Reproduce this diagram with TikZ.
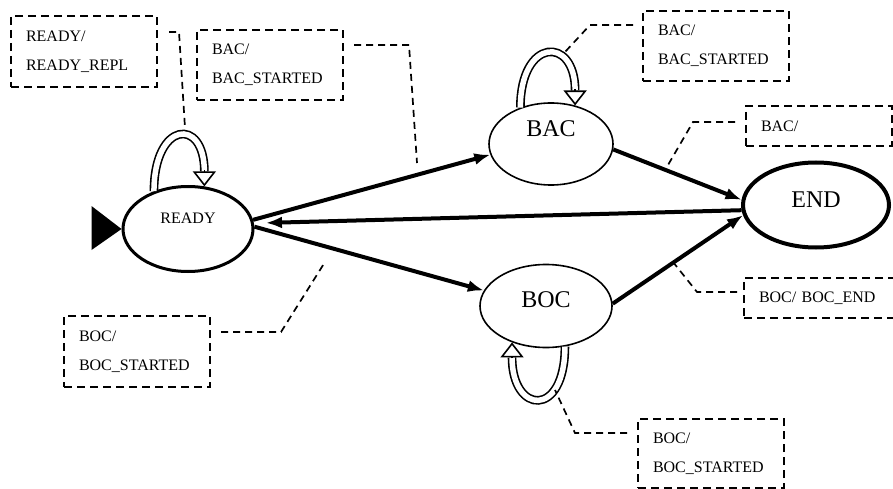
\documentclass[tikz,border=0pt]{standalone}
\usepackage{fontspec}
\setmainfont{Liberation Serif}
\usetikzlibrary{shapes.geometric,arrows.meta,calc}

\begin{document}
\begin{tikzpicture}[x=1pt,y=-1pt,
    state/.style={ellipse, draw, inner sep=0pt, line width=1.6pt, font=\fontsize{24}{28}\selectfont},
    note/.style={draw, dash pattern=on 8pt off 5pt, line width=2pt, anchor=north west, align=left,
        text width=116pt, inner xsep=15pt, inner ysep=0pt, font=\fontsize{16}{29}\selectfont},
    lead/.style={dash pattern=on 7pt off 5pt, line width=1.7pt},
    trans/.style={line width=4pt, -{Latex[length=16pt,width=12pt]}},
    loopline/.style={double, double distance=5.5pt, line width=1.6pt},
    looptip/.style={line width=1.6pt, -{Triangle[open, length=15pt, width=23pt]}}]
    \useasboundingbox (0,0) rectangle (893,489);
    % states
    \node[state, line width=3pt, minimum width=130pt, minimum height=85pt, text depth=22pt,
        font=\fontsize{16}{19}\selectfont] (READY) at (188,229) {READY};
    \node[state, minimum width=124pt, minimum height=82pt, text depth=30pt] (BAC) at (551,144) {BAC};
    \node[state, minimum width=132pt, minimum height=83pt, text depth=12pt] (BOC) at (546,306) {BOC};
    \node[state, line width=4pt, minimum width=146pt, minimum height=85pt, text depth=10pt] (END) at (816,205) {END};
    % initial marker
    \fill (READY.west) -- ++(-30,-23) -- ++(0,44) -- cycle;
    % transitions
    \draw[trans] (READY.8) -- (BAC.190);
    \draw[trans] (READY.2) -- (BOC.166);
    \draw[trans, shorten >=12pt] (END.184) -- (READY.5);
    \draw[trans] (BAC.-5) -- (END.176);
    \draw[trans] (BOC.2) -- (END.188);
    % self loops
    \draw[loopline, shorten >=15pt] (READY.132) .. controls +(0,-70) and +(0,-70) .. (READY.69);
    \draw[looptip] ($(READY.69)+(0,-16)$) -- (READY.69);
    \draw[loopline, shorten >=15pt] (BAC.130) .. controls +(0,-70) and +(0,-70) .. (BAC.58);
    \draw[looptip] ($(BAC.58)+(0,-16)$) -- (BAC.58);
    \draw[loopline, shorten >=15pt] (BOC.-65) .. controls +(0,72) and +(0,72) .. (BOC.-133);
    \draw[looptip] ($(BOC.-133)+(0,16)$) -- (BOC.-133);
    % notes
    \node[note, minimum height=71pt] (n1) at (10,15) {READY/\\READY\_REPL};
    \node[note, minimum height=70pt] (n2) at (196,29) {BAC/\\BAC\_STARTED};
    \node[note, minimum height=70pt] (n3) at (642,10) {BAC/\\BAC\_STARTED};
    \node[note, minimum height=40pt] (n4) at (745,105) {BAC/};
    \node[note, minimum height=40pt, text width=130pt] (n5) at (743,277) {BOC/ BOC\_END};
    \node[note, minimum height=69pt] (n6) at (637,418) {BOC/\\BOC\_STARTED};
    \node[note, minimum height=71pt] (n7) at (63,315) {BOC/\\BOC\_STARTED};
    \coordinate (t1) at (185,128);
    \coordinate (t2) at (417,163);
    \coordinate (t3) at (565,52);
    \coordinate (t4) at (668,165);
    \coordinate (t5) at (673,262);
    \coordinate (t6) at (555,390);
    \coordinate (t7) at (325,262);
    \draw[lead] ($(n1.north east)+(11,17)$) -- ++(10,0) -- (t1);
    \draw[lead] ($(n2.north east)+(10,16)$) -- ++(55,0) -- (t2);
    \draw[lead] ($(n3.north west)+(-9,15)$) -- ++(-43,0) -- (t3);
    \draw[lead] ($(n4.north west)+(-10,17)$) -- ++(-42,0) -- (t4);
    \draw[lead] ($(n5.north west)+(-6,15)$) -- ++(-40,0) -- (t5);
    \draw[lead] ($(n6.north west)+(-10,15)$) -- ++(-52,0) -- (t6);
    \draw[lead] ($(n7.north east)+(10,17)$) -- ++(60,0) -- (t7);
\end{tikzpicture}
\end{document}
